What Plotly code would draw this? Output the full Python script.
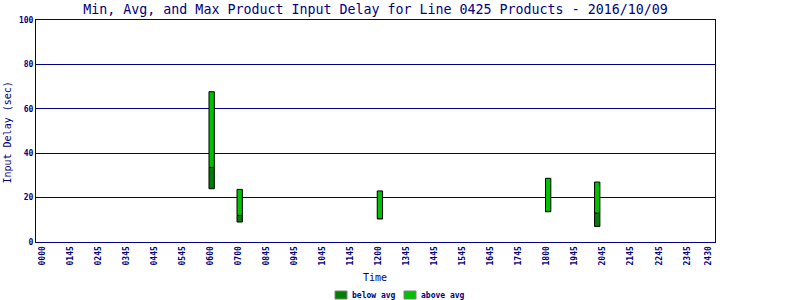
import plotly.graph_objects as go

# Data (hours of day, seconds)
bar_hours = [6.05, 7.05, 12.05, 18.05, 19.8]
min_delay = [24, 9, 10.5, 13.7, 7]
avg_delay = [33.6, 12, 10.5, 13.7, 13]
max_delay = [67.7, 23.7, 23, 28.7, 27]

tick_hours = list(range(24)) + [23.75]
tick_labels = ["0000", "0145", "0245", "0345", "0445", "0545", "0600", "0700",
               "0845", "0945", "1045", "1145", "1200", "1345", "1445", "1545",
               "1645", "1745", "1800", "1945", "2045", "2145", "2245", "2345", "2430"]

y_ticks = [0, 20, 40, 60, 80, 100]

series_names = ["below avg", "above avg"]
series_colors = ["#008000", "#00C000"]

NAVY = "#000080"
FONT = "DejaVu Sans Mono"

# plot area in pixels
L, R, T, B = 36, 715, 20, 242


def px_x(p):
    return (p - L) / (R - L)


def px_y(p):
    return (B - p) / (B - T)


below_h = [a - m for a, m in zip(avg_delay, min_delay)]
above_h = [x - a for x, a in zip(max_delay, avg_delay)]

fig = go.Figure()
fig.add_trace(go.Bar(
    x=bar_hours, y=below_h, base=min_delay, width=0.19, name=series_names[0],
    marker=dict(color=series_colors[0], line=dict(color="black", width=1)),
    showlegend=False,
))
fig.add_trace(go.Bar(
    x=bar_hours, y=above_h, base=avg_delay, width=0.19, name=series_names[1],
    marker=dict(color=series_colors[1], line=dict(color="black", width=1)),
    showlegend=False,
))

# legend drawn as swatches + labels under the plot
legend_shapes = []
legend_annots = []
for i, (nm, col) in enumerate(zip(series_names, series_colors)):
    x0 = 335 + i * 69
    legend_shapes.append(dict(
        type="rect", xref="paper", yref="paper",
        x0=px_x(x0), x1=px_x(x0 + 12), y0=px_y(299), y1=px_y(291),
        fillcolor=col, line=dict(color="#808080", width=1),
    ))
    legend_annots.append(dict(
        text=nm, xref="paper", yref="paper", x=px_x(x0 + 15), y=px_y(295),
        xanchor="left", yanchor="middle", showarrow=False,
        font=dict(family=FONT, size=8, color=NAVY, weight="bold"),
    ))

fig.update_layout(
    template="none",
    width=800, height=300, autosize=False,
    margin=dict(l=L, r=800 - R, t=T, b=300 - B, autoexpand=False),
    paper_bgcolor="white", plot_bgcolor="white",
    barmode="overlay",
    font=dict(family=FONT, color=NAVY),
    title=dict(
        text="Min, Avg, and Max Product Input Delay for Line 0425 Products - 2016/10/09",
        font=dict(family=FONT, size=13.3, color=NAVY),
        x=375.5 / 800, xanchor="center", xref="container",
        y=1 - 9 / 300, yanchor="middle", yref="container",
    ),
    xaxis=dict(
        range=[-0.214, 24], tickmode="array", tickvals=tick_hours, ticktext=tick_labels,
        tickangle=-90, tickfont=dict(family=FONT, size=8, color=NAVY, weight="bold"),
        showgrid=False, zeroline=False, showline=True, linecolor=NAVY, linewidth=1,
        mirror=True, ticks="", fixedrange=True, automargin=False,
    ),
    yaxis=dict(
        range=[0, 100], tickmode="array", tickvals=y_ticks,
        tickfont=dict(family=FONT, size=8, color=NAVY, weight="bold"),
        showgrid=True, gridcolor=NAVY, gridwidth=1, zeroline=False,
        showline=True, linecolor=NAVY, linewidth=1, mirror=True, ticks="",
        automargin=False,
    ),
    showlegend=False,
    shapes=legend_shapes,
    annotations=[
        dict(text="Time", xref="paper", yref="paper", x=px_x(375),
             y=px_y(277), xanchor="center", yanchor="middle", showarrow=False,
             font=dict(family=FONT, size=10, color=NAVY)),
        dict(text="Input Delay (sec)", xref="paper", yref="paper", x=px_x(8),
             y=0.493, xanchor="center", yanchor="middle", showarrow=False, textangle=-90,
             font=dict(family=FONT, size=10, color=NAVY)),
    ] + legend_annots,
)

fig.write_html("out.html")
